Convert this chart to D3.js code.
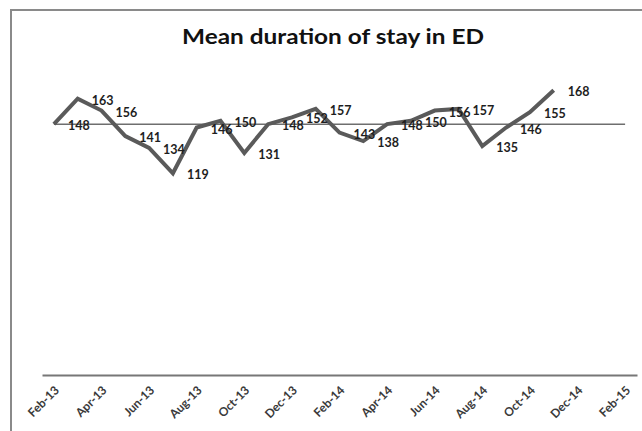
<!DOCTYPE html>
<html>
<head>
<meta charset="utf-8">
<script src="https://cdn.jsdelivr.net/npm/d3@7"></script>
<style>
  html, body { margin: 0; padding: 0; background: #fff; }
  svg { display: block; }
</style>
</head>
<body>
<script>
// Monthly categories on the date axis (Feb-13 .. Feb-15)
const months = [
  "Feb-13","Mar-13","Apr-13","May-13","Jun-13","Jul-13","Aug-13","Sep-13","Oct-13","Nov-13","Dec-13","Jan-14",
  "Feb-14","Mar-14","Apr-14","May-14","Jun-14","Jul-14","Aug-14","Sep-14","Oct-14","Nov-14","Dec-14","Jan-15","Feb-15"
];
// Mean duration of stay (minutes), Feb-13 .. Nov-14
const stayMinutes = [148,163,156,141,134,119,146,150,131,148,152,157,143,138,148,150,156,157,135,146,155,168];
// Overall mean reference line
const overallMean = 148;
// Labelled ticks (every second month)
const tickLabels = ["Feb-13","Apr-13","Jun-13","Aug-13","Oct-13","Dec-13","Feb-14","Apr-14","Jun-14","Aug-14","Oct-14","Dec-14","Feb-15"];
const chartTitle = "Mean duration of stay in ED";

const W = 642, H = 431;
const svg = d3.select("body").append("svg").attr("width", W).attr("height", H);

// chart frame
svg.append("rect")
  .attr("x", 11).attr("y", 10).attr("width", 660).attr("height", 460)
  .attr("fill", "#fff").attr("stroke", "#8a8a8a").attr("stroke-width", 2);

const x = d3.scaleBand().domain(months).range([42, 637]);
const cx = m => x(m) + x.bandwidth() / 2;
const y = d3.scaleLinear().domain([0, 200]).range([375, 36]);

const points = stayMinutes.map((v, i) => ({ m: months[i], v }));

// title
svg.append("text")
  .attr("x", 333).attr("y", 44)
  .attr("text-anchor", "middle")
  .attr("font-family", "Lato, 'Open Sans', sans-serif")
  .attr("font-weight", "bold")
  .attr("font-size", 20)
  .attr("textLength", 302)
  .attr("lengthAdjust", "spacingAndGlyphs")
  .attr("fill", "#111")
  .text(chartTitle);

// category axis
const xAxis = d3.axisBottom(x).tickSize(0).tickValues(tickLabels).tickFormat(d => d);
const gx = svg.append("g").attr("transform", `translate(0,${y(0)})`).call(xAxis);
gx.select(".domain").attr("stroke", "#777").attr("stroke-width", 2);
gx.selectAll(".tick text")
  .attr("font-family", "Lato, 'Open Sans', sans-serif")
  .attr("font-weight", "bold")
  .attr("font-size", 12)
  .attr("fill", "#3a3a3a")
  .attr("text-anchor", "end")
  .attr("transform", "translate(3,13) rotate(-45)")
  .attr("dy", "0.35em")
  .attr("y", 0);

// overall mean reference line
svg.append("line")
  .attr("x1", cx(months[0])).attr("x2", cx(months[months.length - 1]))
  .attr("y1", y(overallMean)).attr("y2", y(overallMean))
  .attr("stroke", "#6e6e6e").attr("stroke-width", 1.5);

// series line
const line = d3.line().x(d => cx(d.m)).y(d => y(d.v));
svg.append("path")
  .datum(points)
  .attr("d", line)
  .attr("fill", "none")
  .attr("stroke", "#5a5a5a")
  .attr("stroke-width", 4)
  .attr("stroke-linejoin", "miter");

// data labels
svg.append("g").selectAll("text")
  .data(points)
  .join("text")
  .attr("x", d => cx(d.m) + 14)
  .attr("y", d => y(d.v) + 6)
  .attr("font-family", "Lato, 'Open Sans', sans-serif")
  .attr("font-weight", "bold")
  .attr("font-size", 12.5)
  .attr("fill", "#1e1e1e")
  .text(d => d.v);
</script>
</body>
</html>
